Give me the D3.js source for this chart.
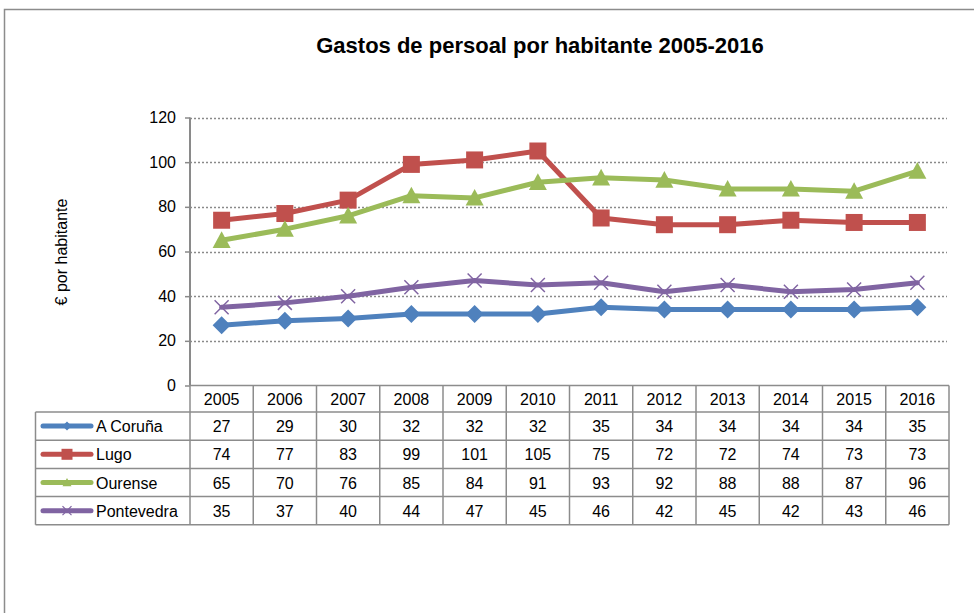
<!DOCTYPE html>
<html>
<head>
<meta charset="utf-8">
<script src="https://cdn.jsdelivr.net/npm/d3@7/dist/d3.min.js"></script>
<style>
  html, body { margin: 0; padding: 0; background: #fff; }
  svg { display: block; font-family: "Liberation Sans", Arial, sans-serif; }
</style>
</head>
<body>
<svg id="chart" width="974" height="613"></svg>
<script>
// Years along the category axis
const years = ["2005","2006","2007","2008","2009","2010","2011","2012","2013","2014","2015","2016"];

// Per-province staff spending per inhabitant (€)
const coruna     = [27, 29, 30, 32, 32, 32, 35, 34, 34, 34, 34, 35];
const lugo       = [74, 77, 83, 99, 101, 105, 75, 72, 72, 74, 73, 73];
const ourense    = [65, 70, 76, 85, 84, 91, 93, 92, 88, 88, 87, 96];
const pontevedra = [35, 37, 40, 44, 47, 45, 46, 42, 45, 42, 43, 46];

const seriesNames = ["A Coruña", "Lugo", "Ourense", "Pontevedra"];
const yTicks = [0, 20, 40, 60, 80, 100, 120];

const series = [
  { name: seriesNames[0], values: coruna,     color: "#4F81BD", marker: "diamond" },
  { name: seriesNames[1], values: lugo,       color: "#C0504D", marker: "square" },
  { name: seriesNames[2], values: ourense,    color: "#9BBB59", marker: "triangle" },
  { name: seriesNames[3], values: pontevedra, color: "#8064A2", marker: "cross" }
];

const svg = d3.select("#chart");
const gridGray = "#8a8a8a";
const textSize = 16;

// Outer chart frame (runs off the right and bottom edges)
svg.append("path")
  .attr("d", "M4.5,613 L4.5,9.5 L974,9.5")
  .attr("fill", "none").attr("stroke", "#8c8c8c").attr("stroke-width", 1.5);

// Title
svg.append("text")
  .attr("x", 540).attr("y", 53)
  .attr("text-anchor", "middle")
  .attr("font-size", 22).attr("font-weight", "bold")
  .text("Gastos de persoal por habitante 2005-2016");

// Scales
const plotLeft = 190, plotRight = 949;
const x = d3.scaleBand().domain(years).range([plotLeft, plotRight]);
const y = d3.scaleLinear().domain([0, 120]).range([385.5, 117.5]);
const cx = d => x(d) + x.bandwidth() / 2;

// Horizontal dotted gridlines
svg.append("g").selectAll("line").data(yTicks.filter(t => t > 0)).join("line")
  .attr("x1", plotLeft).attr("x2", plotRight - 2)
  .attr("y1", d => Math.round(y(d)) + 0.5).attr("y2", d => Math.round(y(d)) + 0.5)
  .attr("stroke", gridGray).attr("stroke-width", 1.5)
  .attr("stroke-dasharray", "2,2");

// Y axis
const yAxis = d3.axisLeft(y).tickValues(yTicks).tickSize(5).tickPadding(9);
const yg = svg.append("g").attr("transform", `translate(${plotLeft},0)`).call(yAxis);
yg.select(".domain").remove();
yg.selectAll(".tick line").attr("stroke", gridGray).attr("stroke-width", 1.5);
yg.selectAll(".tick text")
  .attr("font-size", textSize).attr("fill", "#000")
  .attr("font-family", "Liberation Sans, Arial, sans-serif");
svg.append("line")
  .attr("x1", plotLeft).attr("x2", plotLeft)
  .attr("y1", y(120)).attr("y2", 385.5)
  .attr("stroke", gridGray).attr("stroke-width", 2);

// Y axis title
svg.append("text")
  .attr("transform", "translate(67,252) rotate(-90)")
  .attr("text-anchor", "middle")
  .attr("font-size", 16)
  .text("€ por habitante");

// Marker shapes
function markerPath(type, s) {
  const h = s / 2;
  switch (type) {
    case "diamond": return `M0,${-h}L${h},0L0,${h}L${-h},0Z`;
    case "square":  return `M${-h},${-h}H${h}V${h}H${-h}Z`;
    case "triangle": return `M0,${-h}L${h},${h * 0.85}L${-h},${h * 0.85}Z`;
    case "cross": return `M${-h},${-h}L${h},${h}M${-h},${h}L${h},${-h}`;
  }
}
const markerSize = { diamond: 18, square: 17, triangle: 18, cross: 14 };

// Lines and markers
const line = d3.line().x((d, i) => cx(years[i])).y(d => y(d));
series.forEach(s => {
  const g = svg.append("g");
  g.append("path").datum(s.values)
    .attr("d", line).attr("fill", "none")
    .attr("stroke", s.color).attr("stroke-width", 5)
    .attr("stroke-linejoin", "round").attr("stroke-linecap", "round");
  g.selectAll("path.m").data(s.values).join("path").attr("class", "m")
    .attr("transform", (d, i) => `translate(${cx(years[i])},${y(d)})`)
    .attr("d", markerPath(s.marker, markerSize[s.marker]))
    .attr("fill", s.marker === "cross" ? "none" : s.color)
    .attr("stroke", s.color)
    .attr("stroke-width", s.marker === "cross" ? 1.5 : 0);
});

// Data table below the plot
const tableTop = 385.5, headerH = 26.5, rowH = 28.2, legendLeft = 35.5;
const rowsBottom = tableTop + headerH + rowH * series.length;
const tg = svg.append("g");
function hline(x1, x2, yy) {
  tg.append("line").attr("x1", x1).attr("x2", x2).attr("y1", yy).attr("y2", yy)
    .attr("stroke", "#8c8c8c").attr("stroke-width", 1.5);
}
function vline(xx, y1, y2) {
  tg.append("line").attr("x1", xx).attr("x2", xx).attr("y1", y1).attr("y2", y2)
    .attr("stroke", "#8c8c8c").attr("stroke-width", 1.5);
}
// Category axis line / table top
hline(plotLeft, plotRight, tableTop);
// Row separators
for (let r = 0; r <= series.length; r++) {
  hline(legendLeft, plotRight, tableTop + headerH + rowH * r);
}
// Column separators
years.forEach(yr => vline(x(yr), tableTop, rowsBottom));
vline(plotRight, tableTop, rowsBottom);
vline(legendLeft, tableTop + headerH, rowsBottom);

// Year headers
tg.selectAll("text.yr").data(years).join("text").attr("class", "yr")
  .attr("x", d => cx(d)).attr("y", tableTop + headerH / 2 + 6)
  .attr("text-anchor", "middle").attr("font-size", textSize)
  .text(d => d);

// Value rows with legend keys
series.forEach((s, r) => {
  const rowMid = tableTop + headerH + rowH * r + rowH / 2;
  tg.selectAll(null).data(s.values).join("text")
    .attr("x", (d, i) => cx(years[i])).attr("y", rowMid + 6)
    .attr("text-anchor", "middle").attr("font-size", textSize)
    .text(d => d);
  tg.append("line")
    .attr("x1", 43).attr("x2", 91).attr("y1", rowMid).attr("y2", rowMid)
    .attr("stroke", s.color).attr("stroke-width", 5).attr("stroke-linecap", "round");
  tg.append("path")
    .attr("transform", `translate(67,${rowMid})`)
    .attr("d", markerPath(s.marker, s.marker === "square" ? 11 : 9))
    .attr("fill", s.marker === "cross" ? "none" : s.color)
    .attr("stroke", s.color).attr("stroke-width", s.marker === "cross" ? 1.2 : 0);
  tg.append("text")
    .attr("x", 96).attr("y", rowMid + 6)
    .attr("font-size", textSize)
    .text(s.name);
});
</script>
</body>
</html>
